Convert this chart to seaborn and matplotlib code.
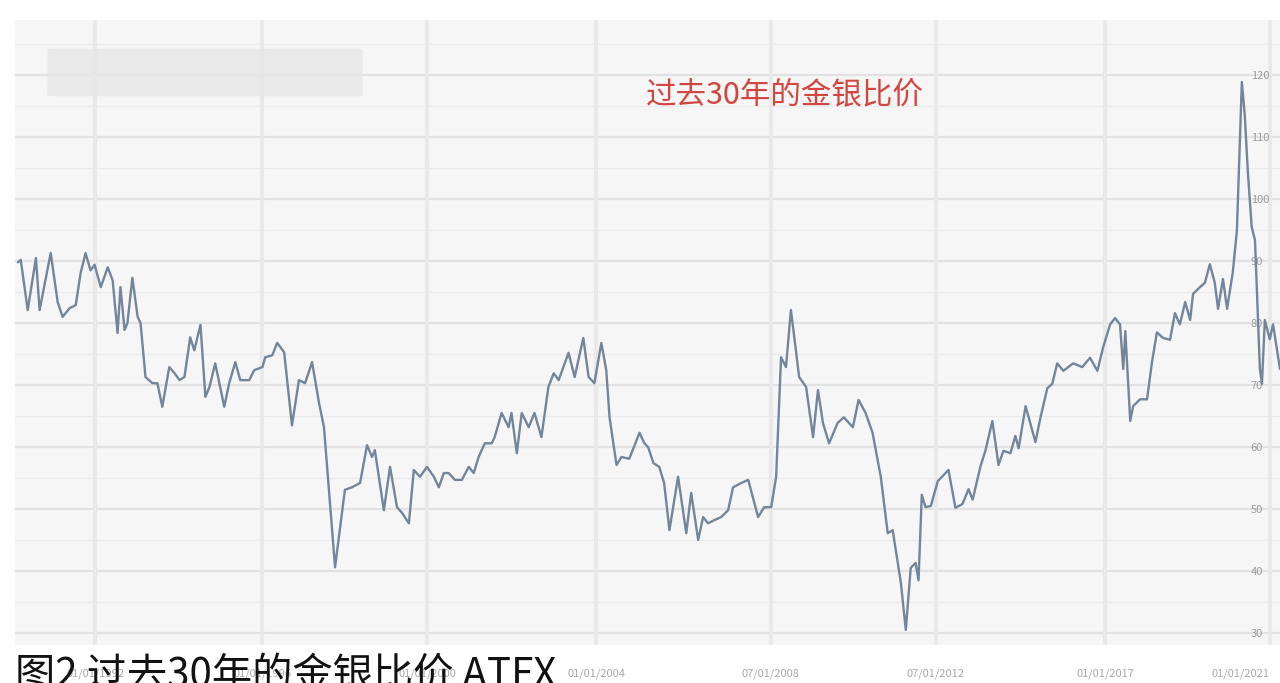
import pandas as pd
import seaborn as sns
import matplotlib.pyplot as plt
from matplotlib.patches import FancyBboxPatch

# gold / silver ratio (decimal year, ratio)
years = [1990.37, 1990.44, 1990.61, 1990.81, 1990.90, 1991.17, 1991.34, 1991.46, 1991.63, 1991.78,
         1991.90, 1992.02, 1992.14, 1992.24, 1992.39, 1992.56, 1992.68, 1992.80, 1992.87, 1992.97,
         1993.04, 1993.16, 1993.29, 1993.36, 1993.48, 1993.65, 1993.77, 1993.89, 1994.06, 1994.19,
         1994.31, 1994.43, 1994.57, 1994.67, 1994.82, 1994.94, 1995.04, 1995.18, 1995.40, 1995.52,
         1995.67, 1995.79, 1996.01, 1996.13, 1996.33, 1996.40, 1996.57, 1996.69, 1996.86, 1997.05,
         1997.22, 1997.37, 1997.54, 1997.71, 1997.83, 1997.95, 1998.10, 1998.34, 1998.51, 1998.71,
         1998.88, 1999.00, 1999.07, 1999.29, 1999.44, 1999.61, 1999.73, 1999.90, 2000.02, 2000.17,
         2000.34, 2000.51, 2000.63, 2000.75, 2000.87, 2001.02, 2001.19, 2001.36, 2001.48, 2001.60,
         2001.75, 2001.92, 2001.99, 2002.16, 2002.33, 2002.40, 2002.53, 2002.65, 2002.82, 2002.96,
         2003.13, 2003.30, 2003.43, 2003.55, 2003.79, 2003.94, 2004.15, 2004.28, 2004.42, 2004.59,
         2004.71, 2004.79, 2004.96, 2005.08, 2005.27, 2005.52, 2005.64, 2005.73, 2005.86, 2006.00,
         2006.12, 2006.25, 2006.46, 2006.66, 2006.78, 2006.95, 2007.07, 2007.19, 2007.34, 2007.51,
         2007.68, 2007.80, 2008.00, 2008.17, 2008.41, 2008.56, 2008.73, 2008.85, 2008.97, 2009.09,
         2009.21, 2009.28, 2009.41, 2009.58, 2009.75, 2009.87, 2009.99, 2010.14, 2010.35, 2010.50,
         2010.72, 2010.86, 2011.03, 2011.20, 2011.40, 2011.57, 2011.69, 2011.89, 2012.01, 2012.13,
         2012.25, 2012.32, 2012.40, 2012.49, 2012.62, 2012.79, 2013.05, 2013.22, 2013.39, 2013.54,
         2013.64, 2013.83, 2013.95, 2014.12, 2014.27, 2014.39, 2014.56, 2014.68, 2014.76, 2014.93,
         2015.17, 2015.29, 2015.46, 2015.58, 2015.70, 2015.85, 2015.97, 2016.09, 2016.31, 2016.50,
         2016.68, 2016.82, 2016.99, 2017.11, 2017.23, 2017.31, 2017.36, 2017.48, 2017.55, 2017.72,
         2017.89, 2018.01, 2018.13, 2018.28, 2018.45, 2018.57, 2018.69, 2018.82, 2018.94, 2019.01,
         2019.18, 2019.30, 2019.42, 2019.54, 2019.62, 2019.74, 2019.84, 2019.98, 2020.08, 2020.20,
         2020.27, 2020.35, 2020.44, 2020.52, 2020.64, 2020.69, 2020.76, 2020.88, 2020.96, 2021.13]
ratio = [89.8, 90.2, 82.1, 90.5, 82.1, 91.3, 83.4, 81.0, 82.4, 82.9,
         88.1, 91.3, 88.5, 89.4, 85.8, 89.0, 86.9, 78.4, 85.8, 78.9,
         80.0, 87.3, 81.0, 80.0, 71.3, 70.3, 70.3, 66.5, 72.9, 71.9,
         70.8, 71.3, 77.7, 75.6, 79.7, 68.1, 69.7, 73.5, 66.5, 70.3,
         73.7, 70.8, 70.8, 72.4, 72.9, 74.5, 74.8, 76.8, 75.3, 63.5,
         70.8, 70.3, 73.7, 67.1, 63.2, 53.1, 40.6, 53.1, 53.5, 54.2,
         60.3, 58.4, 59.5, 49.8, 56.8, 50.3, 49.4, 47.7, 56.3, 55.2,
         56.8, 55.2, 53.5, 55.8, 55.8, 54.7, 54.7, 56.8, 55.8, 58.4,
         60.6, 60.6, 61.6, 65.5, 63.2, 65.5, 59.0, 65.5, 63.2, 65.5,
         61.6, 69.7, 71.9, 70.8, 75.2, 71.3, 77.6, 71.3, 70.3, 76.8,
         72.4, 64.8, 57.1, 58.4, 58.1, 62.3, 60.6, 60.0, 57.4, 56.8,
         54.2, 46.6, 55.2, 46.1, 52.6, 45.0, 48.7, 47.7, 48.2, 48.7,
         49.8, 53.5, 54.2, 54.7, 48.7, 50.3, 50.3, 55.2, 74.5, 72.9,
         82.1, 78.4, 71.3, 69.7, 61.6, 69.2, 63.9, 60.6, 63.9, 64.8,
         63.2, 67.6, 65.5, 62.3, 55.2, 46.1, 46.6, 38.1, 30.5, 40.5,
         41.3, 38.5, 52.3, 50.3, 50.5, 54.5, 56.3, 50.2, 50.8, 53.2,
         51.5, 56.9, 59.4, 64.2, 57.1, 59.4, 59.0, 61.8, 59.8, 66.6,
         60.8, 64.7, 69.5, 70.2, 73.5, 72.3, 72.9, 73.5, 72.9, 74.4,
         72.3, 76.1, 79.8, 80.8, 79.8, 72.6, 78.7, 64.2, 66.6, 67.7,
         67.7, 73.7, 78.5, 77.6, 77.3, 81.6, 79.8, 83.4, 80.5, 84.7,
         85.8, 86.5, 89.5, 86.5, 82.3, 87.1, 82.3, 88.2, 95.0, 118.9,
         113.7, 104.0, 95.5, 93.4, 72.6, 70.2, 80.5, 77.4, 79.8, 72.6]

tick_years = [1992.26, 1996.33, 2000.34, 2004.47, 2008.72, 2012.74, 2016.87, 2020.88]
tick_labels = ["01/01/1992", "01/01/1996", "01/01/2000", "01/01/2004",
               "07/01/2008", "07/01/2012", "01/01/2017", "01/01/2021"]
y_ticks = [30, 40, 50, 60, 70, 80, 90, 100, 110, 120]

sns.set_style("white")
plt.rcParams['font.family'] = ['Noto Sans CJK SC', 'DejaVu Sans']

df = pd.DataFrame({"year": years, "ratio": ratio})

fig = plt.figure(figsize=(12.8, 6.83), dpi=100)
ax = fig.add_axes([15 / 1280, 38 / 683, 1 - 15 / 1280, 625 / 683])
ax.set_facecolor("#f6f6f6")

# grid: heavy lines every 10, faint ones every 5
for v in range(30, 130, 5):
    if v % 10 == 0:
        ax.axhline(v, color="#e2e2e2", lw=1.6, zorder=0)
    else:
        ax.axhline(v, color="#ebebeb", lw=0.9, zorder=0)
for t in tick_years:
    ax.axvline(t, color="#e9e9e9", lw=3, zorder=0)

sns.lineplot(data=df, x="year", y="ratio", ax=ax, color="#72859a", lw=1.7, zorder=3)

ax.set_xlim(1990.3, 2021.13)
ax.set_ylim(28.06, 128.9)
ax.set_xticks(tick_years, tick_labels)
ax.set_yticks(y_ticks)
ax.yaxis.tick_right()
ax.tick_params(axis="y", length=0, pad=-21, labelsize=8, labelcolor="#9b9b9b")
ax.tick_params(axis="x", length=0, pad=17, labelsize=8, labelcolor="#a8a8a8")
# last date label sits at the right edge, keep it inside the picture
ax.get_xticklabels()[-1].set_horizontalalignment("right")
ax.set_xlabel("")
ax.set_ylabel("")
for sp in ax.spines.values():
    sp.set_visible(False)

# blurred logo box top left
ax.add_patch(FancyBboxPatch((35 / 1265, 1 - 75 / 625), 310 / 1265, 45 / 625,
                            boxstyle="round,pad=0.002", transform=ax.transAxes,
                            facecolor="#e6e6e6", edgecolor="none", alpha=0.8, zorder=1))

fig.text(785 / 1280, 1 - 95 / 683, "过去30年的金银比价", color="#d2463f",
         fontsize=22, ha="center", va="center", fontweight="medium")

fig.text(15 / 1280, 1 - 655 / 683, "图2 过去30年的金银比价 ATFX", color="#111111",
         fontsize=29, ha="left", va="top")

fig.savefig("out.png", dpi=100)
